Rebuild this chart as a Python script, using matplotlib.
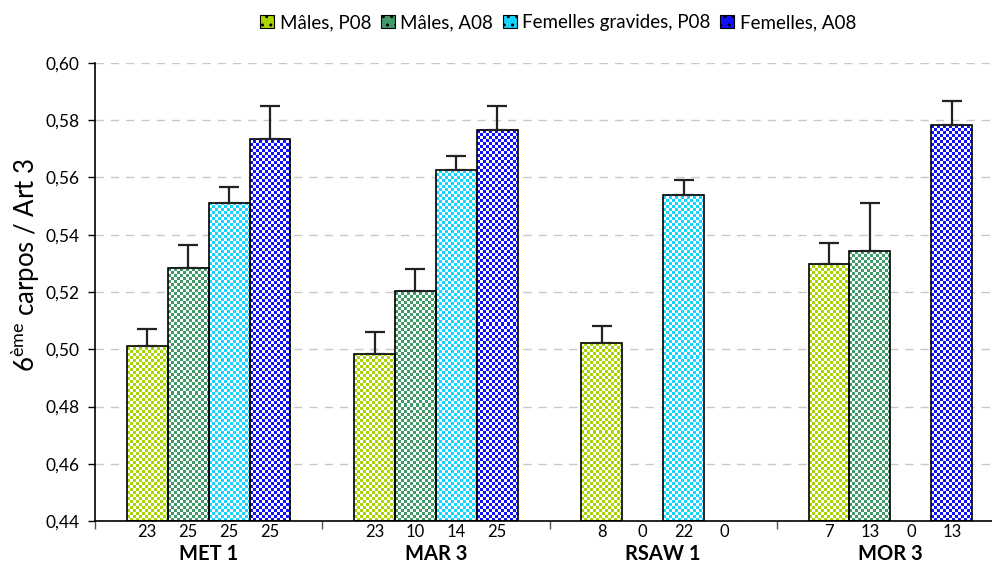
import numpy as np
import matplotlib
matplotlib.use("Agg")
import matplotlib.pyplot as plt
from matplotlib.patches import Patch
from matplotlib.transforms import blended_transform_factory
from matplotlib.colors import to_rgb

plt.rcParams['font.family'] = ['Lato', 'DejaVu Sans']
plt.rcParams['mathtext.fontset'] = 'custom'
plt.rcParams['mathtext.rm'] = 'Lato'
plt.rcParams['mathtext.it'] = 'Lato'
plt.rcParams['mathtext.default'] = 'regular'

sites = ["MET 1", "MAR 3", "RSAW 1", "MOR 3"]
series = ["Mâles, P08", "Mâles, A08", "Femelles gravides, P08", "Femelles, A08"]
colors = ["#a8d400", "#3f9a68", "#14d4ff", "#1010ff"]

# mean ratio per site (rows = series); NaN where no individuals
means = np.array([
    [0.5011, 0.4983, 0.5022, 0.5298],
    [0.5284, 0.5204, np.nan, 0.5343],
    [0.5511, 0.5626, 0.5539, np.nan],
    [0.5734, 0.5766, np.nan, 0.5783],
])
errs = np.array([
    [0.0060, 0.0077, 0.0059, 0.0073],
    [0.0080, 0.0077, np.nan, 0.0168],
    [0.0056, 0.0049, 0.0052, np.nan],
    [0.0116, 0.0084, np.nan, 0.0084],
])
counts = [
    [23, 23, 8, 7],
    [25, 10, 0, 13],
    [25, 14, 22, 0],
    [25, 25, 0, 13],
]
yticks = [0.44, 0.46, 0.48, 0.50, 0.52, 0.54, 0.56, 0.58, 0.60]

W, H = 992, 566
fig = plt.figure(figsize=(W / 100, H / 100), dpi=100)
ax_l, ax_r, ax_t, ax_b = 95, 1004, 63, 521
ax = fig.add_axes([ax_l / W, 1 - ax_b / H, (ax_r - ax_l) / W, (ax_b - ax_t) / H])

ymin, ymax = 0.44, 0.60
xlim = (-0.5, 3.5)
ax.set_xlim(*xlim)
ax.set_ylim(ymin, ymax)

bw = 0.18
offs = (np.arange(4) - 1.5) * bw
x = np.arange(len(sites))

px_per_x = (ax_r - ax_l) / (xlim[1] - xlim[0])
px_per_y = (ax_b - ax_t) / (ymax - ymin)
cell = 3


def checker(color, wpx, hpx):
    rgb = np.array(to_rgb(color))
    ii, jj = np.mgrid[0:hpx, 0:wpx]
    mask = ((ii // cell) + (jj // cell)) % 2 == 0
    img = np.empty((hpx, wpx, 3))
    img[:] = rgb
    img[mask] = 1.0
    return img


for s in range(4):
    xs = x + offs[s]
    vals = means[s]
    ok = ~np.isnan(vals)
    for xi, v in zip(xs[ok], vals[ok]):
        wpx = int(round(bw * px_per_x))
        hpx = max(1, int(round((v - ymin) * px_per_y)))
        ax.imshow(checker(colors[s], wpx, hpx), extent=(xi - bw / 2, xi + bw / 2, ymin, v),
                  origin='lower', interpolation='nearest', aspect='auto', zorder=2)
    ax.bar(xs[ok], vals[ok] - ymin, bottom=ymin, width=bw, fill=False,
           edgecolor='black', linewidth=1.2, zorder=3)
    ax.errorbar(xs[ok], vals[ok], yerr=[np.zeros(ok.sum()), errs[s][ok]], fmt='none',
                ecolor='#222222', elinewidth=1.6, capsize=7, capthick=1.6, zorder=4)

ax.set_xlim(*xlim)
ax.set_ylim(ymin, ymax)

# grid and axes styling
ax.set_yticks(yticks)
ax.set_yticklabels([f"{t:.2f}".replace('.', ',') for t in yticks], fontsize=12.5)
ax.yaxis.grid(True, linestyle=(0, (6, 5)), color='#c8c8c8', linewidth=1)
ax.set_axisbelow(True)
for side in ('top', 'right'):
    ax.spines[side].set_visible(False)
ax.spines['left'].set_linewidth(1.2)
ax.spines['bottom'].set_linewidth(1.2)
ax.tick_params(axis='y', length=5, width=1, pad=6)

ax.set_xticks([-0.5, 0.5, 1.5, 2.5, 3.5])
ax.set_xticklabels([])
ax.tick_params(axis='x', length=6, width=1, color='#555555')

trans = blended_transform_factory(ax.transData, ax.transAxes)
for s in range(4):
    for g in range(len(sites)):
        ax.text(x[g] + offs[s], -0.023, str(counts[s][g]), transform=trans,
                ha='center', va='center', fontsize=12)
for g, name in enumerate(sites):
    ax.text(x[g], -0.072, name, transform=trans, ha='center', va='center',
            fontsize=14.5, fontweight='bold')

ax.set_ylabel("6$^{ème}$ carpos / Art 3", fontsize=18.5)
ax.yaxis.set_label_coords(-0.058, 0.56)

handles = [Patch(facecolor=c, edgecolor='black', linewidth=0.8, hatch='..') for c in colors]
leg = fig.legend(handles, series, loc='upper center', bbox_to_anchor=(0.5625, 1.005), ncol=4,
                 frameon=False, fontsize=13.5, handlelength=0.75, handleheight=0.75,
                 handletextpad=0.3, columnspacing=0.5)

fig.savefig("out.png", dpi=100)
